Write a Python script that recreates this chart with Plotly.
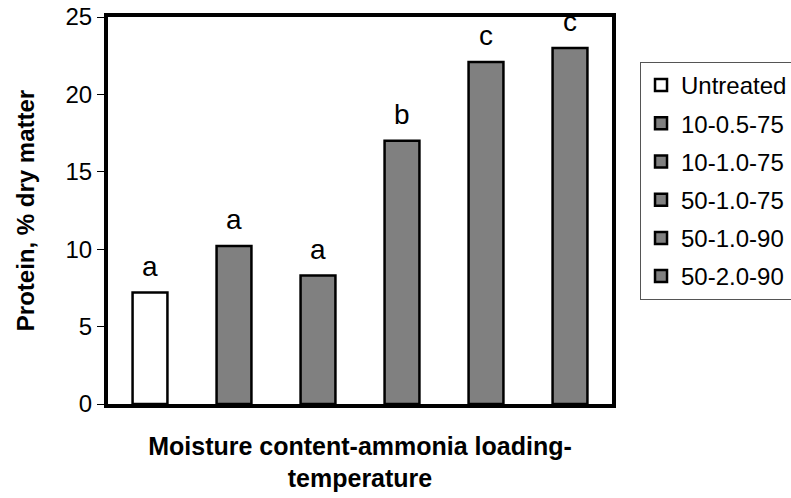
import plotly.graph_objects as go

treatments = ["Untreated", "10-0.5-75", "10-1.0-75", "50-1.0-75", "50-1.0-90", "50-2.0-90"]
protein = [7.2, 10.2, 8.3, 17.0, 22.1, 23.0]
letters = ["a", "a", "a", "b", "c", "c"]
colors = ["#FFFFFF", "#808080", "#808080", "#808080", "#808080", "#808080"]
y_ticks = [0, 5, 10, 15, 20, 25]

FONT = "Arial, 'Liberation Sans', sans-serif"

fig = go.Figure()
for name, val, col in zip(treatments, protein, colors):
    fig.add_trace(go.Bar(
        x=[name], y=[val], name=name, legendgroup=name,
        marker=dict(color=col, line=dict(color="black", width=2.5)),
        width=0.415,
    ))

for name, val, lab in zip(treatments, protein, letters):
    fig.add_annotation(x=name, y=val, text=lab, showarrow=False,
                       yanchor="bottom", yshift=9,
                       font=dict(family=FONT, size=28, color="black"))

fig.update_layout(
    width=791, height=498,
    margin=dict(l=108, r=179, t=17, b=94, autoexpand=False),
    paper_bgcolor="white", plot_bgcolor="white",
    barmode="overlay",
    showlegend=True,
    font=dict(family=FONT, color="black"),
    legend=dict(
        x=1.0556, xanchor="left", y=0.8837, yanchor="top",
        font=dict(family=FONT, size=24, color="black"),
        bordercolor="#555555", borderwidth=1, bgcolor="white",
        tracegroupgap=4, itemclick=False,
    ),
    xaxis=dict(
        type="category", categoryorder="array", categoryarray=treatments,
        range=[-0.5, 5.5], automargin=False,
        showticklabels=False, ticks="",
        showline=True, linecolor="black", linewidth=4, mirror=True,
        showgrid=False, zeroline=False,
        title=dict(text="<b>Moisture content-ammonia loading-<br>temperature</b>",
                   font=dict(family=FONT, size=25, color="black"), standoff=31),
    ),
    yaxis=dict(
        range=[0, 25], tickvals=y_ticks, automargin=False,
        ticklabeloverflow="allow",
        ticks="outside", ticklen=7, tickwidth=1, tickcolor="black",
        tickfont=dict(family=FONT, size=24, color="black"),
        showline=True, linecolor="black", linewidth=4, mirror=True,
        showgrid=False, zeroline=False,
        title=dict(text="<b>Protein, % dry matter</b>",
                   font=dict(family=FONT, size=24, color="black"), standoff=25),
    ),
)

fig.write_html("out.html", config={"displayModeBar": False},
               post_script="document.body.style.margin='0';")
